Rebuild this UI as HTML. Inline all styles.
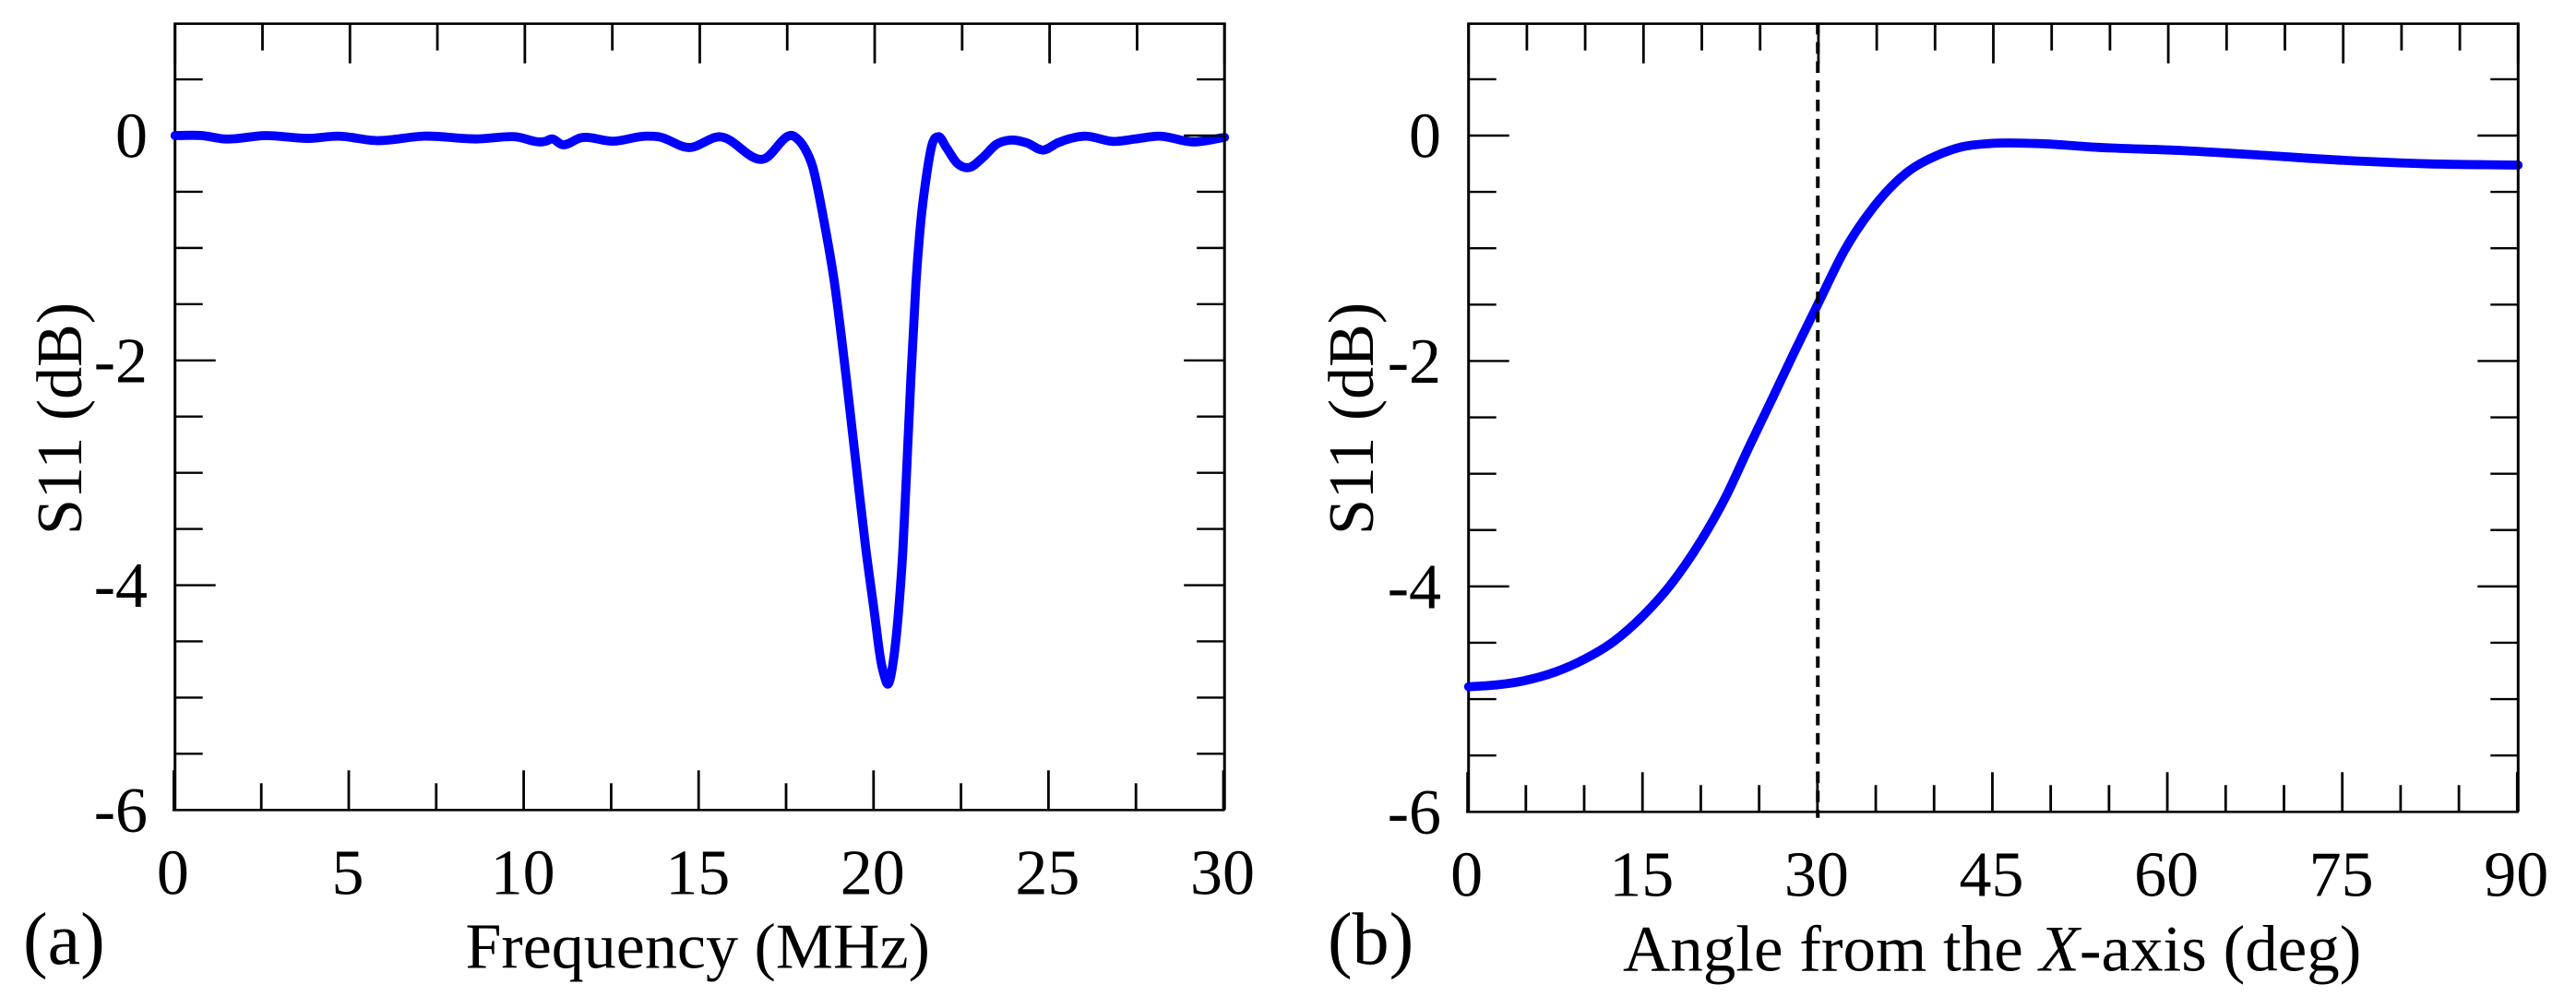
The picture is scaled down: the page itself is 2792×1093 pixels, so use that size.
<!DOCTYPE html>
<html lang="en">
<head>
<meta charset="utf-8">
<title>S11 versus frequency and angle</title>
<style>
html,body{margin:0;padding:0;background:#fff;width:2792px;height:1093px;overflow:hidden}
svg{display:block}
text{font-family:"Liberation Serif",serif;font-size:70px;fill:#000}
text.panel-tag{font-size:80px}
text.wide-title{font-size:71px}
</style>
</head>
<body>
<svg id="figure" xmlns="http://www.w3.org/2000/svg" width="2792" height="1093" viewBox="0 0 2792 1093">
  <rect width="2792" height="1093" fill="#ffffff"/>
  <g id="panel-a"></g>
  <g id="panel-b"></g>
  <text class="panel-tag" x="25" y="1045">(a)</text>
  <text x="504.5" y="1049.5">Frequency (MHz)</text>
  <text transform="translate(88 580) rotate(-90)">S11 (dB)</text>
  <text class="panel-tag" x="1439" y="1045">(b)</text>
  <text class="wide-title" x="1759" y="1052.5">Angle from the <tspan font-style="italic">X</tspan>-axis (deg)</text>
  <text transform="translate(1488 580) rotate(-90)">S11 (dB)</text>
</svg>
<script>
const frequencyMHz = [0,0.77,1.41,2.59,3.83,4.65,5.77,7.12,8.65,9.71,10.6,10.77,11.06,11.6,12.54,13.46,13.82,14.69,15.58,16.81,17.72,17.99,18.22,18.55,18.85,19.2,19.52,19.74,19.99,20.18,20.27,20.38,20.53,20.68,20.81,20.9,21.03,21.18,21.32,21.47,21.64,21.82,22.05,22.35,22.68,23.11,23.47,23.88,24.35,24.82,25.23,26,26.82,27.46,28.12,29.12,30];
const s11VsFrequency = [0,0,-0.03,0,-0.025,-0.005,-0.045,-0.005,-0.03,-0.01,-0.05,-0.03,-0.08,-0.02,-0.05,-0.005,-0.01,-0.106,-0.011,-0.21,-0.011,-0.107,-0.27,-0.76,-1.31,-2.19,-3.07,-3.66,-4.24,-4.68,-4.8,-4.88,-4.68,-4.24,-3.66,-3.07,-2.19,-1.31,-0.76,-0.38,-0.08,-0.01,-0.107,-0.244,-0.285,-0.19,-0.08,-0.04,-0.065,-0.129,-0.065,-0.005,-0.052,-0.03,-0.005,-0.057,-0.016];
const angleDeg = [0,1.71,4.61,7.5,9.89,12.5,14.9,17.27,19.9,22,24.1,26,28,29.93,32.3,34.8,37.46,40.2,42.3,44.75,48.6,54.2,61.2,68.1,75.1,82.1,90];
const s11VsAngle = [-4.89,-4.88,-4.84,-4.757,-4.648,-4.484,-4.266,-3.993,-3.6,-3.216,-2.752,-2.343,-1.907,-1.5,-1.007,-0.625,-0.338,-0.175,-0.1,-0.07,-0.07,-0.106,-0.133,-0.175,-0.22,-0.25,-0.262];
const frequencyTicks = [0,2.5,5,7.5,10,12.5,15,17.5,20,22.5,25,27.5,30];
const frequencyLabels = ["0","5","10","15","20","25","30"];
const angleTicks = [0,5,10,15,20,25,30,35,40,45,50,55,60,65,70,75,80,85,90];
const angleLabels = ["0","15","30","45","60","75","90"];
const s11Ticks = [0.5,0,-0.5,-1,-1.5,-2,-2.5,-3,-3.5,-4,-4.5,-5,-5.5];
const s11Labels = ["0","-2","-4","-6"];
const referenceAngle = [30];

const SVGNS = "http://www.w3.org/2000/svg";
function make(tag, attrs, parent, content) {
  const node = document.createElementNS(SVGNS, tag);
  for (const key in attrs) node.setAttribute(key, attrs[key]);
  if (content !== undefined) node.textContent = content;
  parent.appendChild(node);
  return node;
}
function linearScale(d0, d1, r0, r1) {
  return v => r0 + (v - d0) * (r1 - r0) / (d1 - d0);
}
function smoothPath(xs, ys) {
  const n = xs.length;
  const slope = i => {
    if (i === 0) return (ys[1] - ys[0]) / (xs[1] - xs[0]);
    if (i === n - 1) return (ys[n - 1] - ys[n - 2]) / (xs[n - 1] - xs[n - 2]);
    const h0 = xs[i] - xs[i - 1], h1 = xs[i + 1] - xs[i];
    const s0 = (ys[i] - ys[i - 1]) / h0, s1 = (ys[i + 1] - ys[i]) / h1;
    return (h1 * s0 + h0 * s1) / (h0 + h1);
  };
  let d = "M" + xs[0].toFixed(2) + " " + ys[0].toFixed(2);
  for (let i = 0; i < n - 1; i++) {
    const h = (xs[i + 1] - xs[i]) / 3;
    d += "C" + (xs[i] + h).toFixed(2) + " " + (ys[i] + slope(i) * h).toFixed(2) +
         " " + (xs[i + 1] - h).toFixed(2) + " " + (ys[i + 1] - slope(i + 1) * h).toFixed(2) +
         " " + xs[i + 1].toFixed(2) + " " + ys[i + 1].toFixed(2);
  }
  return d;
}
function drawLine(parent, x1, y1, x2, y2, width) {
  return make("line", { x1: x1, y1: y1, x2: x2, y2: y2, stroke: "#000", "stroke-width": width }, parent);
}

function drawPanel(cfg) {
  const root = document.getElementById(cfg.id);
  const xTop = linearScale(cfg.xMin, cfg.xMax, cfg.topLeft, cfg.topRight);
  const xBottom = linearScale(cfg.xMin, cfg.xMax, cfg.bottomLeft, cfg.bottomRight);
  const xData = linearScale(cfg.xMin, cfg.xMax, cfg.topLeft, cfg.topRight);
  const y = linearScale(0, -6, cfg.yZero, cfg.yBottom);
  const yTop = cfg.yTop;
  const yBot = cfg.yBottom;

  const frameLeft = drawLine(root, cfg.topLeft, yTop, cfg.topLeft, yBot, 3);
  
  
  const frameTop = drawLine(root, cfg.topLeft - 1.5, yTop, cfg.topRight + 1.5, yTop, 2.6);
  
  
  const frameBottom = drawLine(root, cfg.bottomLeft - 1.5, yBot, cfg.bottomRight + 1.5, yBot, 2.6);
  
  

  cfg.xTicks.forEach(v => {
    const major = Math.abs(v % cfg.xMajor) < 1e-6;
    const len = major ? 43 : 29;
    const top = drawLine(root, xTop(v), yTop, xTop(v), yTop + len, 2.8);
    
    
    const bottom = drawLine(root, xBottom(v), yBot, xBottom(v), yBot - len, 2.8);
    
    
  });
  cfg.yTicks.forEach(v => {
    const major = Math.abs(v % 2) < 1e-6;
    const len = major ? 44 : 30;
    const left = drawLine(root, cfg.topLeft, y(v), cfg.topLeft + len, y(v), 2.4);
    
    
  });

  const curve = make("path", {
    d: smoothPath(cfg.xValues.map(xData), cfg.yValues.map(y)),
    fill: "none", stroke: "#0000ff", "stroke-width": 9.8,
    "stroke-linecap": "round", "stroke-linejoin": "round"
  }, root);
  
  

  const frameRight = drawLine(root, cfg.topRight, yTop, cfg.topRight, yBot, 3);
  
  
  cfg.yTicks.forEach(v => {
    const major = Math.abs(v % 2) < 1e-6;
    const len = major ? 44 : 30;
    const right = drawLine(root, cfg.topRight, y(v), cfg.topRight - len, y(v), 2.4);
    
    
  });

  cfg.xLabels.forEach(label => {
    const t = make("text", {
      x: xBottom(Number(label)) - 1, y: cfg.xLabelY, "text-anchor": "middle"
    }, root, label);
    
    
  });
  s11Labels.forEach(label => {
    const t = make("text", {
      x: cfg.yLabelRight, y: y(Number(label)) + 23.5, "text-anchor": "end"
    }, root, label);
    
    
  });

  if (cfg.marker) {
    cfg.marker.forEach(v => {
      const dash = make("line", {
        x1: xBottom(v) + 0.4, y1: 24.87, x2: xBottom(v) + 0.4, y2: 886.7,
        stroke: "#000", "stroke-width": 4, "stroke-dasharray": "12.5 8.31"
      }, root);
      
      
    });
  }
}

drawPanel({
  id: "panel-a", xMin: 0, xMax: 30,
  topLeft: 189.7, topRight: 1327.2, bottomLeft: 188.4, bottomRight: 1326,
  yTop: 25.7, yZero: 147, yBottom: 878.3,
  xTicks: frequencyTicks, xMajor: 5, yTicks: s11Ticks,
  xValues: frequencyMHz, yValues: s11VsFrequency,
  xLabels: frequencyLabels, xLabelY: 969.5, yLabelRight: 160
});
drawPanel({
  id: "panel-b", xMin: 0, xMax: 90,
  topLeft: 1591.7, topRight: 2729.3, bottomLeft: 1590.6, bottomRight: 2728.3,
  yTop: 25.7, yZero: 147, yBottom: 880.3,
  xTicks: angleTicks, xMajor: 15, yTicks: s11Ticks,
  xValues: angleDeg, yValues: s11VsAngle,
  xLabels: angleLabels, xLabelY: 971.5, yLabelRight: 1562,
  marker: referenceAngle
});
</script>
</body>
</html>
